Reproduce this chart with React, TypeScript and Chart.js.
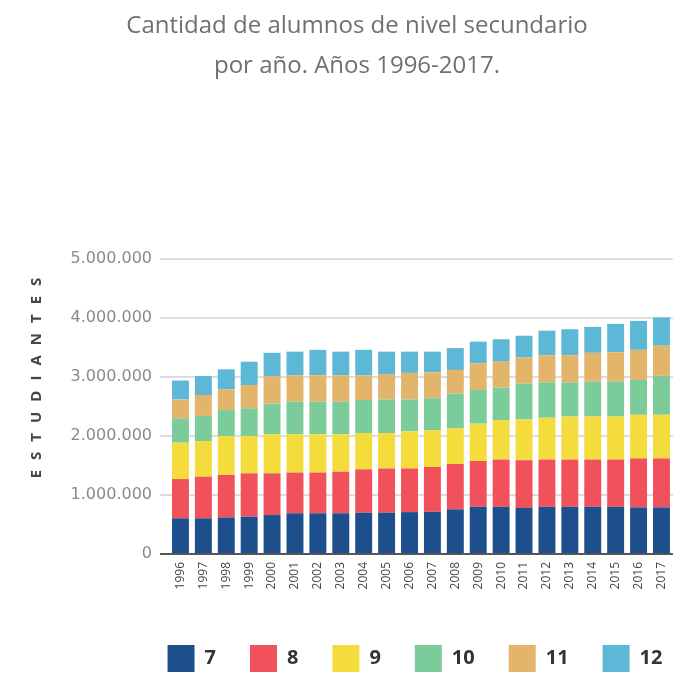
import React, { useEffect, useRef } from 'react';
import { Chart, registerables } from 'chart.js';

Chart.register(...registerables);

const titleLines = ['Cantidad de alumnos de nivel secundario', 'por año. Años 1996-2017.'];
const yAxisTitle = 'ESTUDIANTES';

const years = ['1996', '1997', '1998', '1999', '2000', '2001', '2002', '2003', '2004', '2005', '2006',
  '2007', '2008', '2009', '2010', '2011', '2012', '2013', '2014', '2015', '2016', '2017'];

// alumnos por año de estudio (miles)
const grade7 = [605, 605, 620, 633, 660, 690, 690, 690, 700, 700, 710, 715, 757, 800, 800, 780, 800, 800, 800, 800, 790, 790];
const grade8 = [665, 705, 720, 734, 707, 690, 690, 705, 735, 750, 740, 760, 768, 776, 800, 810, 800, 800, 800, 800, 830, 830];
const grade9 = [617, 605, 660, 633, 663, 650, 650, 635, 615, 600, 630, 625, 605, 634, 670, 690, 710, 730, 730, 730, 740, 740];
const grade10 = [413, 425, 440, 470, 520, 550, 550, 550, 560, 570, 540, 540, 590, 570, 550, 610, 600, 580, 590, 590, 590, 660];
const grade11 = [320, 355, 350, 394, 460, 450, 450, 450, 420, 430, 450, 440, 400, 450, 440, 440, 460, 460, 490, 500, 510, 510];
const grade12 = [320, 322, 340, 396, 400, 400, 430, 400, 430, 380, 360, 350, 370, 370, 380, 370, 415, 440, 440, 480, 490, 480];

const seriesLabels = ['7', '8', '9', '10', '11', '12'];
const seriesData = [grade7, grade8, grade9, grade10, grade11, grade12];
const seriesColors = ['#1c4f8c', '#f0515a', '#f3dc3c', '#7ccb9a', '#e3b56b', '#5cb8d6'];

const yMax = 5000000;
const yStep = 1000000;

const fmt = (v: number) => String(Math.round(v)).replace(/\B(?=(\d{3})+(?!\d))/g, '.');

const yTitlePlugin = {
  id: 'yTitleDraw',
  afterDraw(chart: any) {
    const ctx = chart.ctx;
    ctx.save();
    ctx.font = 'bold 15px "Open Sans"';
    ctx.fillStyle = '#444444';
    (ctx as any).letterSpacing = '10px';
    ctx.translate(37, 378);
    ctx.rotate(-Math.PI / 2);
    ctx.textAlign = 'center';
    ctx.textBaseline = 'middle';
    ctx.fillText(yAxisTitle, 5, 0);
    ctx.restore();
  },
};

const legendShiftPlugin = {
  id: 'legendShift',
  afterLayout(chart: any) {
    const lg = chart.legend;
    if (lg) {
      lg.left += 58;
      lg.right += 58;
    }
  },
};

export default function App() {
  const ref = useRef<HTMLCanvasElement | null>(null);

  useEffect(() => {
    if (!ref.current) return;
    const chart = new Chart(ref.current, {
      type: 'bar',
      data: {
        labels: years,
        datasets: seriesLabels.map((lab, i) => ({
          label: lab,
          data: seriesData[i].map((v) => v * 1000),
          backgroundColor: seriesColors[i],
          borderWidth: 0,
          barPercentage: 0.74,
          categoryPercentage: 1,
        })),
      },
      options: {
        responsive: false,
        animation: false,
        devicePixelRatio: 1,
        layout: { padding: { left: 36, right: 6, top: 0, bottom: 8 } },
        plugins: {
          title: {
            display: true,
            text: titleLines,
            color: '#707070',
            font: { family: '"Open Sans"', size: 24, weight: 'normal', lineHeight: 40 / 24 },
            padding: { top: 6, bottom: 173 },
          },
          legend: {
            position: 'bottom',
            labels: {
              boxWidth: 27,
              boxHeight: 27,
              padding: 34,
              color: '#333333',
              font: { family: '"Open Sans"', size: 20, weight: 'bold' },
            },
          },
          tooltip: { enabled: false },
        },
        scales: {
          x: {
            stacked: true,
            grid: { display: false, drawTicks: false },
            border: { display: false },
            ticks: {
              autoSkip: false,
              maxRotation: 90,
              minRotation: 90,
              padding: 8,
              color: '#444444',
              font: { family: '"Open Sans"', size: 12 },
            },
            afterFit: (s: any) => { s.height = 57; },
          },
          y: {
            stacked: true,
            min: 0,
            max: yMax,
            grid: {
              color: (c: any) => (c.tick && c.tick.value === 0 ? '#555555' : '#dddddd'),
              lineWidth: 2,
              tickLength: 9,
            },
            border: { display: false },
            ticks: {
              stepSize: yStep,
              padding: 8,
              color: '#8a8a8a',
              font: { family: '"DejaVu Sans"', size: 16 },
              callback: (v: any) => fmt(Number(v)),
            },
            afterFit: (s: any) => { s.width = 133; },
          },
        },
      },
      plugins: [yTitlePlugin, legendShiftPlugin],
    } as any);
    return () => chart.destroy();
  }, []);

  return (
    <div style={{ position: 'absolute', left: 0, top: 0, width: 684, height: 690, background: '#fff' }}>
      <canvas ref={ref} width={684} height={690} style={{ width: 684, height: 690, display: 'block' }} />
    </div>
  );
}
